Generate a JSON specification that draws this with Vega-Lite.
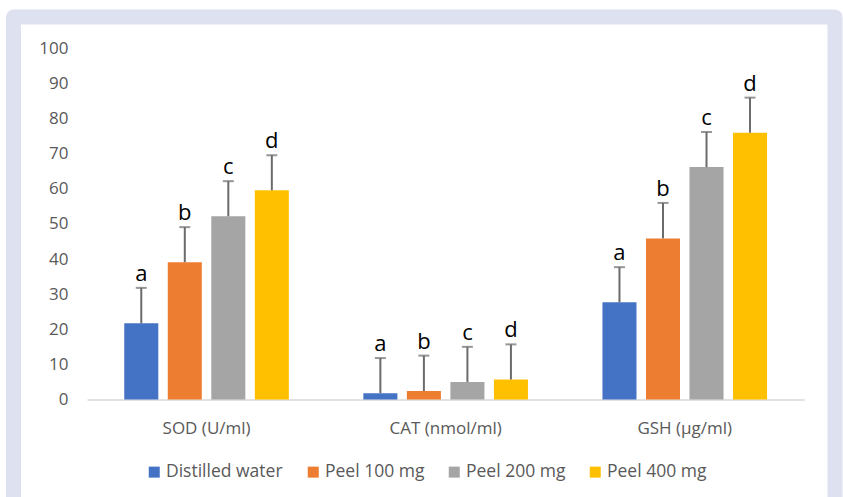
{
  "$schema": "https://vega.github.io/schema/vega-lite/v6.json",
  "width": 821.5,
  "height": 490,
  "autosize": {"type": "none"},
  "padding": {"left": 13.5, "top": 17, "right": 8, "bottom": 0},
  "background": "white",
  "config": {
    "font": "Open Sans",
    "view": {"stroke": "#DDE1F0", "strokeWidth": 15, "strokeJoin": "round", "fill": "white"}
  },
  "data": {
    "values": [
      {"assay": "SOD (U/ml)", "group": "Distilled water", "value": 21.7, "upper": 31.8, "letter": "a"},
      {"assay": "SOD (U/ml)", "group": "Peel 100 mg", "value": 39.1, "upper": 49.1, "letter": "b"},
      {"assay": "SOD (U/ml)", "group": "Peel 200 mg", "value": 52.2, "upper": 62.2, "letter": "c"},
      {"assay": "SOD (U/ml)", "group": "Peel 400 mg", "value": 59.6, "upper": 69.6, "letter": "d"},
      {"assay": "CAT (nmol/ml)", "group": "Distilled water", "value": 1.8, "upper": 11.8, "letter": "a"},
      {"assay": "CAT (nmol/ml)", "group": "Peel 100 mg", "value": 2.4, "upper": 12.5, "letter": "b"},
      {"assay": "CAT (nmol/ml)", "group": "Peel 200 mg", "value": 5.0, "upper": 15.0, "letter": "c"},
      {"assay": "CAT (nmol/ml)", "group": "Peel 400 mg", "value": 5.7, "upper": 15.7, "letter": "d"},
      {"assay": "GSH (µg/ml)", "group": "Distilled water", "value": 27.7, "upper": 37.7, "letter": "a"},
      {"assay": "GSH (µg/ml)", "group": "Peel 100 mg", "value": 45.9, "upper": 56.0, "letter": "b"},
      {"assay": "GSH (µg/ml)", "group": "Peel 200 mg", "value": 66.2, "upper": 76.2, "letter": "c"},
      {"assay": "GSH (µg/ml)", "group": "Peel 400 mg", "value": 76.0, "upper": 86.0, "letter": "d"}
    ]
  },
  "encoding": {
    "x": {
      "field": "assay",
      "type": "nominal",
      "sort": ["SOD (U/ml)", "CAT (nmol/ml)", "GSH (µg/ml)"],
      "scale": {"range": [73.5, 790.8], "paddingInner": 0, "paddingOuter": 0},
      "axis": {
        "title": null,
        "orient": "bottom",
        "offset": -107.5,
        "labelAngle": 0,
        "ticks": false,
        "domainColor": "#D9D9D9",
        "domainWidth": 1.5,
        "labelPadding": 21,
        "labelFontSize": 17,
        "labelColor": "#595959",
        "labelFont": "Open Sans"
      }
    },
    "xOffset": {
      "field": "group",
      "type": "nominal",
      "sort": ["Distilled water", "Peel 100 mg", "Peel 200 mg", "Peel 400 mg"],
      "scale": {"paddingInner": 0.218, "paddingOuter": 0.856}
    }
  },
  "layer": [
    {
      "mark": {"type": "bar"},
      "encoding": {
        "y": {
          "field": "value",
          "type": "quantitative",
          "scale": {"domain": [-30.63, 108.97], "nice": false, "zero": false},
          "axis": {
            "title": null,
            "values": [0, 10, 20, 30, 40, 50, 60, 70, 80, 90, 100],
            "grid": false,
            "ticks": false,
            "domain": false,
            "labelPadding": 0,
            "offset": -54.5,
            "labelFontSize": 17,
            "labelColor": "#595959",
            "labelFont": "Open Sans"
          }
        },
        "y2": {"datum": 0},
        "color": {
          "field": "group",
          "type": "nominal",
          "sort": ["Distilled water", "Peel 100 mg", "Peel 200 mg", "Peel 400 mg"],
          "scale": {"range": ["#4472C4", "#ED7D31", "#A5A5A5", "#FFC000"]},
          "legend": {
            "orient": "none",
            "legendX": 132,
            "legendY": 446,
            "direction": "horizontal",
            "title": null,
            "symbolType": "square",
            "symbolSize": 121,
            "symbolStrokeWidth": 0,
            "labelFontSize": 17.5,
            "labelColor": "#595959",
            "labelFont": "Open Sans",
            "labelOffset": 3,
            "columnPadding": 21,
            "padding": 0
          }
        }
      }
    },
    {
      "mark": {"type": "rule", "color": "#6B6B6B", "strokeWidth": 2},
      "encoding": {
        "y": {"field": "value", "type": "quantitative"},
        "y2": {"field": "upper"}
      }
    },
    {
      "mark": {"type": "tick", "color": "#6B6B6B", "size": 11, "thickness": 2, "orient": "horizontal"},
      "encoding": {
        "y": {"field": "upper", "type": "quantitative"}
      }
    },
    {
      "mark": {"type": "text", "font": "Open Sans", "fontSize": 22, "color": "#000000", "baseline": "alphabetic", "dy": -7},
      "encoding": {
        "y": {"field": "upper", "type": "quantitative"},
        "text": {"field": "letter"}
      }
    }
  ]
}
